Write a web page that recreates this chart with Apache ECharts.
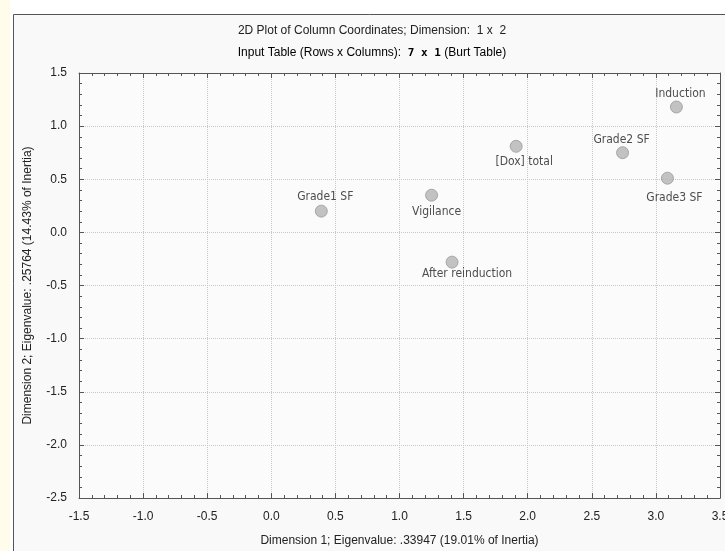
<!DOCTYPE html>
<html>
<head>
<meta charset="utf-8">
<script src="https://cdn.jsdelivr.net/npm/echarts@6/dist/echarts.min.js"></script>
<style>html,body{margin:0;padding:0;background:#fff;}#c{width:725px;height:551px;}</style>
</head>
<body>
<div id="c"></div>
<script>
// ---- data ----
const pointNames = ['Grade1 SF', 'Vigilance', 'After reinduction', '[Dox] total', 'Grade2 SF', 'Induction', 'Grade3 SF'];
const dim1 = [0.39, 1.25, 1.41, 1.91, 2.74, 3.16, 3.09];
const dim2 = [0.20, 0.35, -0.28, 0.81, 0.75, 1.18, 0.51];
const xTicks = [-1.5, -1.0, -0.5, 0.0, 0.5, 1.0, 1.5, 2.0, 2.5, 3.0, 3.5];
const yTicks = [-2.5, -2.0, -1.5, -1.0, -0.5, 0.0, 0.5, 1.0, 1.5];
const titleLine1 = '2D Plot of Column Coordinates; Dimension:  1 x  2';
const xName = 'Dimension 1; Eigenvalue: .33947 (19.01% of Inertia)';
const yName = 'Dimension 2; Eigenvalue: .25764 (14.43% of Inertia)';

// ---- label placement (style) ----
const labelOffsets = {
  'Grade1 SF': [4, -14],
  'Vigilance': [5, 17],
  'After reinduction': [15, 12],
  '[Dox] total': [8, 16],
  'Grade2 SF': [-1, -13],
  'Induction': [4, -13],
  'Grade3 SF': [7, 20]
};

const chart = echarts.init(document.getElementById('c'), null, {renderer: 'canvas'});
const fmt = v => (Math.abs(v) < 1e-9 ? 0 : v).toFixed(1);

const data = pointNames.map((n, i) => ({
  name: n,
  value: [dim1[i], dim2[i]],
  label: { offset: labelOffsets[n] }
}));

const axisCommon = {
  axisLine: { show: true, onZero: false, lineStyle: { color: '#555', width: 1 } },
  axisTick: { show: true, inside: true, length: 5, lineStyle: { color: '#555' } },
  minorTick: { show: true, splitNumber: 5, length: 3, lineStyle: { color: '#555' } },
  splitLine: { show: false }
};

chart.setOption({
  animation: false,
  backgroundColor: '#ffffff',
  graphic: [
    { type: 'rect', shape: { x: 0, y: 0, width: 10, height: 551 }, style: { fill: '#fffcec' }, z: -10 },
    { type: 'rect', shape: { x: 13.5, y: 14.5, width: 740, height: 560 }, style: { fill: '#f9f9f9', stroke: '#555', lineWidth: 1 }, z: -9 },
    { type: 'rect', shape: { x: 79, y: 73, width: 641, height: 425 }, style: { fill: '#fbfbfb' }, z: -8 },
    { type: 'text', x: 372, y: 31, style: { text: titleLine1, font: '12px "Liberation Sans", Arial, sans-serif', fill: '#222', align: 'center', verticalAlign: 'middle' } },
    { type: 'text', x: 372, y: 53, style: {
        text: '{a|Input Table (Rows x Columns):  }{m|7 x 1}{a| (Burt Table)}',
        align: 'center', verticalAlign: 'middle',
        rich: {
          a: { fontSize: 12, fontFamily: '"Liberation Sans", Arial, sans-serif', color: '#222' },
          m: { fontSize: 11, fontWeight: 'bold', fontFamily: '"DejaVu Sans Mono", "Liberation Mono", monospace', color: '#333' }
        }
      } }
  ],
  grid: { left: 79, top: 73, right: 5, bottom: 53, containLabel: false, outerBoundsMode: 'none' },
  xAxis: [
    Object.assign({}, axisCommon, {
      type: 'value', min: xTicks[0], max: xTicks[xTicks.length - 1], interval: 0.5, position: 'bottom',
      name: xName, nameLocation: 'middle', nameGap: 37,
      nameTextStyle: { color: '#222', fontSize: 12, fontFamily: '"Liberation Sans", Arial, sans-serif' },
      axisLabel: { show: true, color: '#222', fontSize: 12, margin: 13, fontFamily: '"Liberation Sans", Arial, sans-serif', formatter: fmt, showMaxLabel: true },
      splitLine: { show: true, lineStyle: { color: '#c8c8c8', type: [1, 1], width: 1 } }
    }),
    Object.assign({}, axisCommon, {
      type: 'value', min: xTicks[0], max: xTicks[xTicks.length - 1], interval: 0.5, position: 'top',
      axisLabel: { show: false }
    })
  ],
  yAxis: [
    Object.assign({}, axisCommon, {
      type: 'value', min: yTicks[0], max: yTicks[yTicks.length - 1], interval: 0.5, position: 'left',
      name: yName, nameLocation: 'middle', nameGap: 45, nameRotate: 90,
      nameTextStyle: { color: '#222', fontSize: 12, fontFamily: '"Liberation Sans", Arial, sans-serif' },
      axisLabel: { show: true, color: '#222', fontSize: 12, margin: 12, fontFamily: '"Liberation Sans", Arial, sans-serif', formatter: fmt },
      splitLine: { show: true, lineStyle: { color: '#c8c8c8', type: [1, 1], width: 1 } }
    }),
    Object.assign({}, axisCommon, {
      type: 'value', min: yTicks[0], max: yTicks[yTicks.length - 1], interval: 0.5, position: 'right',
      axisLabel: { show: false }
    })
  ],
  series: [{
    type: 'scatter',
    xAxisIndex: 0, yAxisIndex: 0,
    symbol: 'circle',
    symbolSize: 12,
    itemStyle: { color: '#b4b4b4', borderColor: '#9a9a9a', borderWidth: 1 },
    label: {
      show: true, position: 'inside', formatter: p => p.name,
      color: '#222', fontSize: 12, fontFamily: '"DejaVu Sans Condensed", "DejaVu Sans", sans-serif'
    },
    emphasis: { disabled: true },
    data: data
  }]
});
</script>
</body>
</html>
